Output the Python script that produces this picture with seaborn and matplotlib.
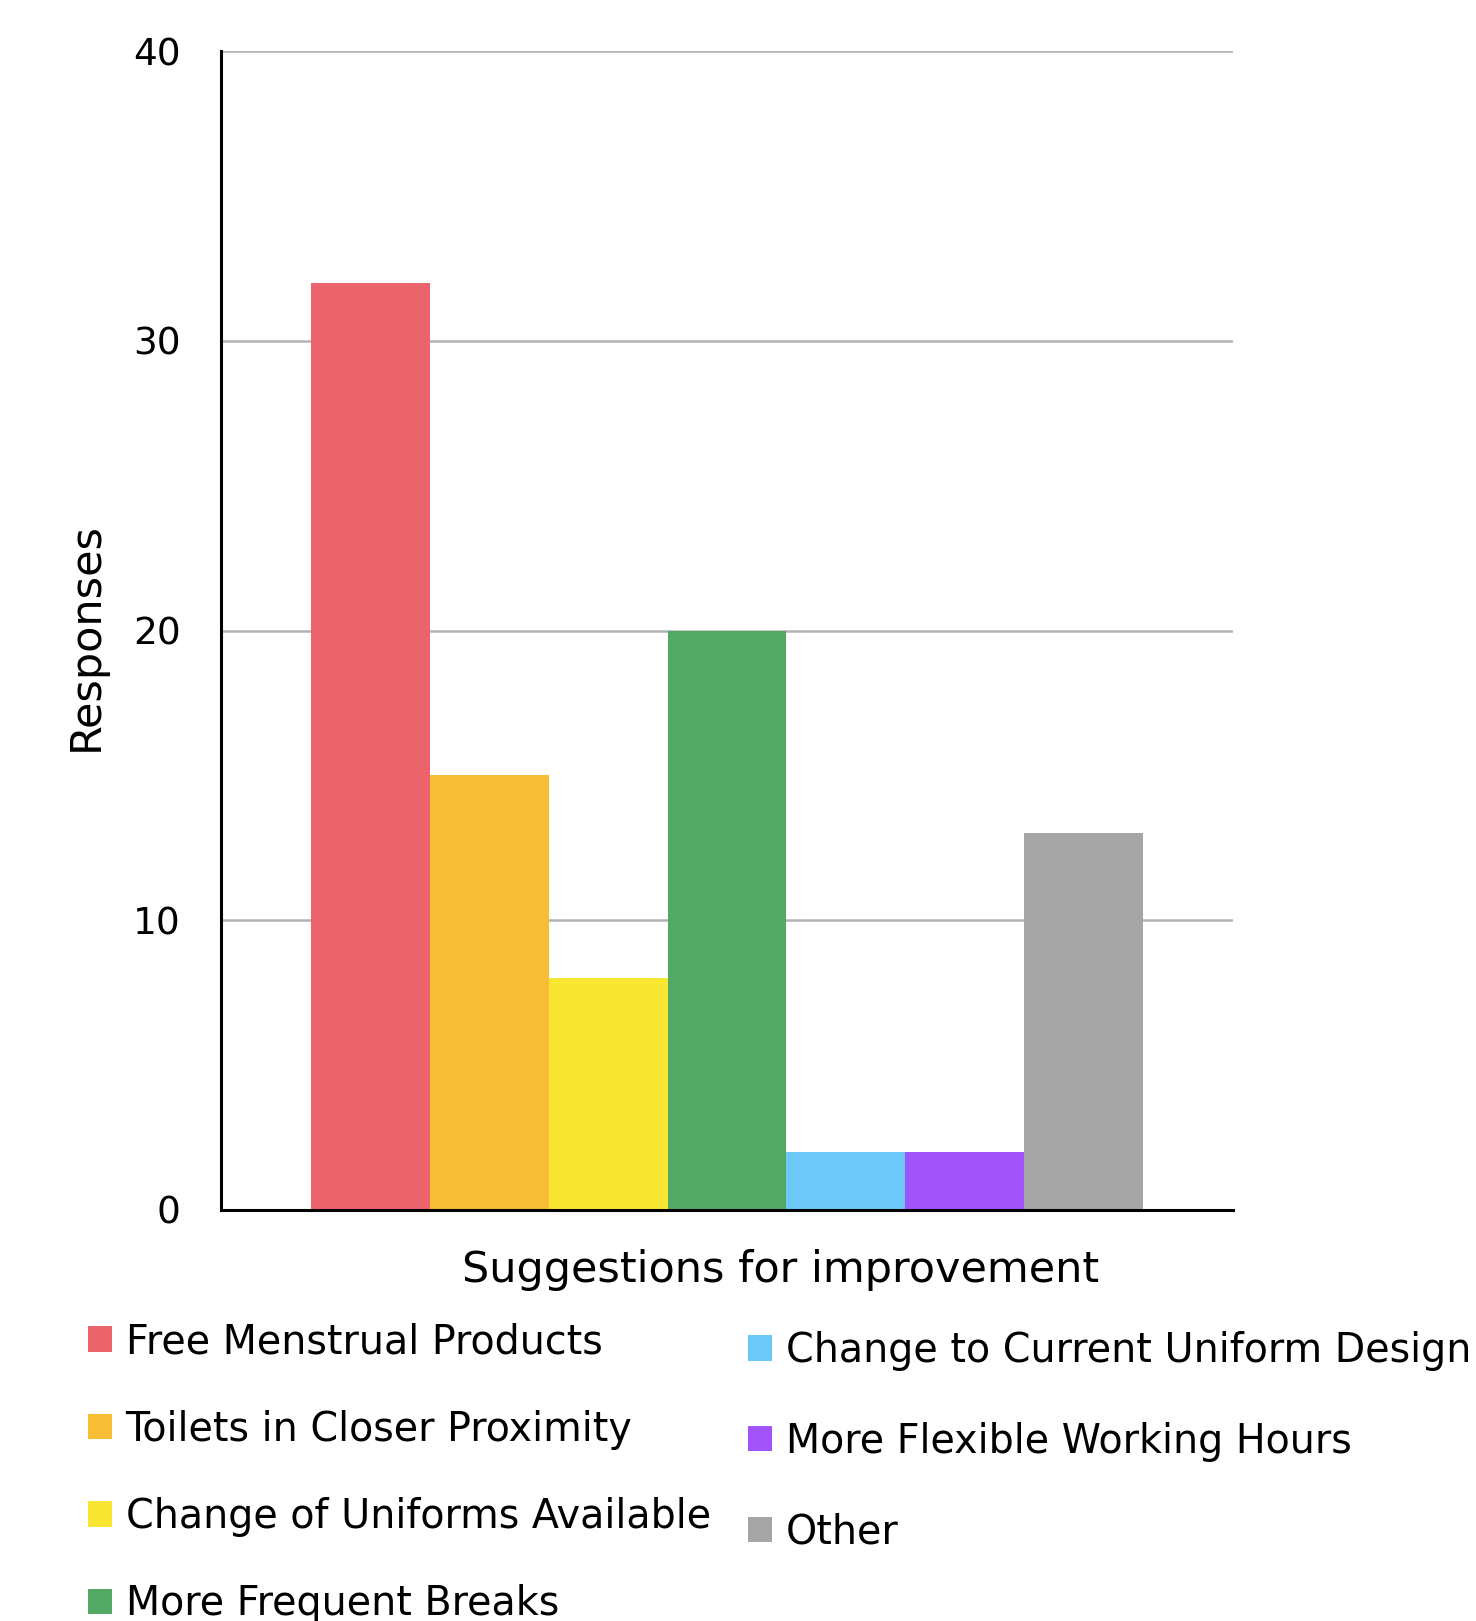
import matplotlib
matplotlib.use("Agg")
import matplotlib.pyplot as plt
import seaborn as sns
import pandas as pd

# Survey responses per suggested improvement
categories = [
    "Free Menstrual Products",
    "Toilets in Closer Proximity",
    "Change of Uniforms Available",
    "More Frequent Breaks",
    "Change to Current Uniform Design",
    "More Flexible Working Hours",
    "Other",
]
responses = [32, 15, 8, 20, 2, 2, 13]
colors = ["#EB636B", "#F7BD34", "#F9E633", "#53A865", "#6DC8FA", "#A054F9", "#A5A5A5"]
y_ticks = [0, 10, 20, 30, 40]

sns.set_theme(style="white")
plt.rcParams["font.family"] = ["DejaVu Sans"]
plt.rcParams["text.color"] = "black"

df = pd.DataFrame({
    "group": ["Suggestions"] * len(categories),
    "category": categories,
    "responses": responses,
})

W, H = 1476, 1621
fig = plt.figure(figsize=(W / 100, H / 100), dpi=100)
ax = fig.add_axes([221 / W, 1 - 1210 / H, (1233 - 221) / W, (1210 - 51) / H])

sns.barplot(
    data=df, x="group", y="responses", hue="category",
    hue_order=categories, palette=colors, width=0.823,
    saturation=1, ax=ax, legend=True, linewidth=0,
)

ax.set_xlim(-0.5, 0.5)
ax.set_ylim(0, 40)
ax.set_yticks(y_ticks)
ax.set_yticklabels([str(t) for t in y_ticks])
ax.set_xticks([])
ax.yaxis.grid(True, color="#B3B3B3", linewidth=1.8)
ax.set_axisbelow(True)
for side in ["top", "right"]:
    ax.spines[side].set_visible(False)
for side in ["left", "bottom"]:
    ax.spines[side].set_visible(True)
    ax.spines[side].set_color("black")
    ax.spines[side].set_linewidth(2.2)
ax.tick_params(axis="y", length=0, pad=29, labelsize=27, colors="black")

ax.set_xlabel("Suggestions for improvement", fontsize=31, color="black")
ax.xaxis.set_label_coords((781 - 221) / 1012, -0.034)
ax.set_ylabel("Responses", fontsize=31, color="black")
ax.yaxis.set_label_coords(-0.134, 0.495)
ax.yaxis.label.set_va("center")

handles, labels = ax.get_legend_handles_labels()
ax.get_legend().remove()

leg_kw = dict(
    frameon=False, fontsize=28.5, handlelength=0.6, handleheight=0.6,
    handletextpad=0.35, borderpad=0, borderaxespad=0, loc="upper left",
    bbox_transform=fig.transFigure, labelcolor="black",
)
leg1 = fig.legend(handles[:4], labels[:4], labelspacing=1.2,
                  bbox_to_anchor=(88 / W, 1 - 1322 / H), **leg_kw)
leg2 = fig.legend(handles[4:], labels[4:], labelspacing=1.28,
                  bbox_to_anchor=(748 / W, 1 - 1331 / H), **leg_kw)

fig.savefig("out.png", dpi=100, facecolor="white")
